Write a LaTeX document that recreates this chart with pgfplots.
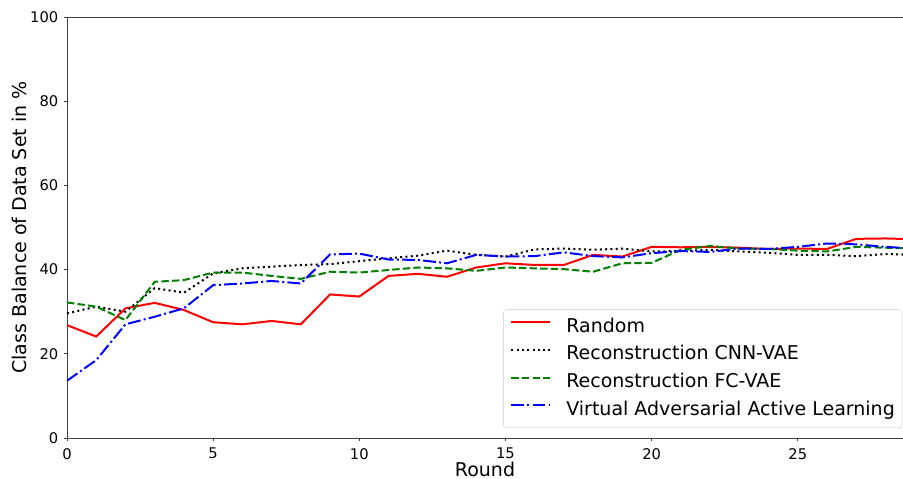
\documentclass[border=0pt]{standalone}
\usepackage{fontspec}
\setmainfont{DejaVu Sans}
\usepackage{pgfplots}
\pgfplotsset{compat=1.18}

\definecolor{mplgreen}{HTML}{008000}

\begin{document}
\begin{tikzpicture}
\begin{axis}[
  name=ax,
  scale only axis,
  width=836pt, height=421pt,
  xmin=0, xmax=28.6, ymin=0, ymax=100,
  xtick={0,5,10,15,20,25},
  ytick={0,20,40,60,80,100},
  tick align=outside,
  xtick pos=bottom, ytick pos=left,
  major tick length=3pt,
  axis line style={black!75, line width=0.8pt},
  tick style={black!75, line width=0.8pt},
  /pgf/number format/assume math mode=true,
  ticklabel style={font=\fontsize{14.7}{16}\selectfont, text=black, inner sep=0pt},
  xticklabel style={anchor=north, yshift=-7pt},
  yticklabel style={anchor=east, xshift=-5.5pt},
  xlabel={Round},
  ylabel={Class Balance of Data Set in \%},
  label style={font=\fontsize{19}{21}\selectfont, inner sep=0pt},
  xlabel style={at={(axis description cs:0.5,0)}, anchor=north, yshift=-23.5pt},
  ylabel style={at={(axis description cs:-0.04785,0.5)}, anchor=south},
  legend cell align=left,
  legend style={
    at={(1,0)}, anchor=south east, xshift=-1pt, yshift=10pt,
    font=\fontsize{19}{21}\selectfont,
    draw=black!20, rounded corners=3pt,
    inner xsep=7pt, inner ysep=8.5pt,
    row sep=9.7pt, column sep=15pt,
    nodes={inner sep=0pt, text height=14pt, text depth=4pt},
  },
  legend image code/.code={
    \draw[#1] (0pt,5pt) -- (39pt,5pt);
  },
]
\addplot[red, line width=2pt] coordinates {
  (0,26.8) (1,24.1) (2,30.8) (3,32.1) (4,30.4) (5,27.5) (6,27.0) (7,27.8)
  (8,27.0) (9,34.1) (10,33.6) (11,38.5) (12,39.0) (13,38.3) (14,40.5)
  (15,41.5) (16,41.1) (17,41.1) (18,43.5) (19,43.1) (20,45.4) (21,45.3)
  (22,45.4) (23,45.2) (24,44.9) (25,45.0) (26,44.9) (27,47.3) (28,47.4) (29,47.2)
};
\addlegendentry{Random}
\addplot[black, line width=2pt, dash pattern=on 2pt off 3.3pt] coordinates {
  (0,29.6) (1,31.2) (2,30.0) (3,35.6) (4,34.5) (5,39.1) (6,40.3) (7,40.7)
  (8,41.1) (9,41.3) (10,42.0) (11,42.7) (12,43.3) (13,44.5) (14,43.5)
  (15,43.1) (16,44.8) (17,45.0) (18,44.7) (19,45.0) (20,44.3) (21,44.4)
  (22,44.7) (23,44.3) (24,44.0) (25,43.5) (26,43.5) (27,43.2) (28,43.7) (29,43.5)
};
\addlegendentry{Reconstruction CNN-VAE}
\addplot[mplgreen, line width=2pt, dash pattern=on 7.4pt off 3.2pt] coordinates {
  (0,32.2) (1,31.2) (2,28.0) (3,37.1) (4,37.5) (5,39.3) (6,39.3) (7,38.5)
  (8,37.8) (9,39.5) (10,39.3) (11,39.9) (12,40.5) (13,40.3) (14,39.7)
  (15,40.5) (16,40.3) (17,40.1) (18,39.5) (19,41.5) (20,41.6) (21,44.7)
  (22,45.6) (23,45.0) (24,44.9) (25,44.5) (26,44.3) (27,45.4) (28,45.2) (29,45.0)
};
\addlegendentry{Reconstruction FC-VAE}
\addplot[blue, line width=2pt, dash pattern=on 12.8pt off 3.2pt on 2pt off 3.2pt] coordinates {
  (0,13.6) (1,18.5) (2,27.0) (3,28.8) (4,30.8) (5,36.3) (6,36.7) (7,37.3)
  (8,36.7) (9,43.6) (10,43.8) (11,42.4) (12,42.3) (13,41.5) (14,43.5)
  (15,43.1) (16,43.2) (17,44.1) (18,43.2) (19,42.9) (20,43.9) (21,44.4)
  (22,44.2) (23,45.0) (24,44.9) (25,45.4) (26,46.2) (27,46.0) (28,45.4) (29,45.0)
};
\addlegendentry{Virtual Adversarial Active Learning}
\end{axis}
% page frame: margins round the axis box for the tick labels and axis labels
\pgfresetboundingbox
\path ([shift={(-67pt,-41pt)}]ax.south west) rectangle ([shift={(0pt,17pt)}]ax.north east);
\end{tikzpicture}
\end{document}
